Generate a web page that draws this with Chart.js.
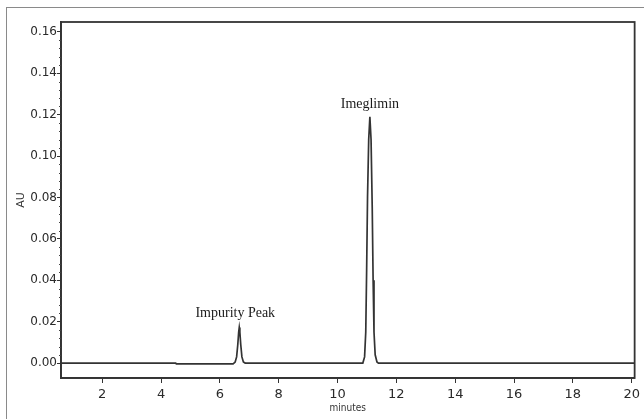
<!DOCTYPE html>
<html>
<head>
<meta charset="utf-8">
<script src="https://cdn.jsdelivr.net/npm/chart.js@4"></script>
<style>
  html, body { margin: 0; padding: 0; background: #fff; }
  #wrap { position: relative; width: 644px; height: 419px; }
  #frame { position: absolute; left: 6px; top: 7px; width: 638px; height: 412px;
           border-left: 1px solid #8a8a8a; border-top: 1px solid #8a8a8a; box-sizing: border-box; }
  canvas { position: absolute; left: 0; top: 0; }
</style>
</head>
<body>
<div id="wrap">
  <div id="frame"></div>
  <canvas id="c" width="644" height="419"></canvas>
</div>
<script>
// ---- data ----
const timesMin = [0.6, 4.5, 4.52, 6.45, 6.52, 6.57, 6.61, 6.64, 6.66, 6.68, 6.71, 6.75, 6.80, 6.86,
                  10.86, 10.92, 10.96, 10.99, 11.02, 11.06, 11.10, 11.14, 11.18, 11.21, 11.24, 11.28, 11.34, 11.39, 20.1];
const absorbanceAU = [0, 0, -0.0004, -0.0004, 0.0005, 0.003, 0.009, 0.015, 0.0172, 0.015, 0.009, 0.003, 0.0005, 0,
                  0, 0.003, 0.015, 0.045, 0.08, 0.108, 0.119, 0.108, 0.075, 0.04, 0.015, 0.004, 0.0005, 0, 0];
const xTickValues = [2, 4, 6, 8, 10, 12, 14, 16, 18, 20];
const yTickValues = [0.00, 0.02, 0.04, 0.06, 0.08, 0.10, 0.12, 0.14, 0.16];
const peakNames = ["Impurity Peak", "Imeglimin"];
const peakTimes = [6.66, 11.10];
const peakHeights = [0.0172, 0.119];
const xTitle = "minutes";
const yTitle = "AU";

const points = timesMin.map((t, i) => ({ x: t, y: absorbanceAU[i] }));

const frameAndLabels = {
  id: 'frameAndLabels',
  afterDraw(chart) {
    const ctx = chart.ctx;
    const a = chart.chartArea;
    const xs = chart.scales.x, ys = chart.scales.y;
    ctx.save();
    // frame
    ctx.strokeStyle = '#333';
    ctx.lineWidth = 1.8;
    ctx.strokeRect(a.left, a.top, a.right - a.left, a.bottom - a.top);
    // minor ticks on y axis
    ctx.lineWidth = 1;
    ctx.strokeStyle = '#444';
    for (let i = 0; i < yTickValues.length - 1; i++) {
      const step = (yTickValues[i + 1] - yTickValues[i]) / 5;
      for (let k = 1; k < 5; k++) {
        const py = Math.round(ys.getPixelForValue(yTickValues[i] + k * step)) + 0.5;
        ctx.beginPath();
        ctx.moveTo(a.left - 2, py);
        ctx.lineTo(a.left, py);
        ctx.stroke();
      }
    }
    // peak labels
    ctx.fillStyle = '#1a1a1a';
    ctx.font = '14px "Liberation Serif", "Times New Roman", serif';
    ctx.textAlign = 'center';
    ctx.textBaseline = 'middle';
    peakNames.forEach((name, i) => {
      const px = xs.getPixelForValue(peakTimes[i]);
      const py = ys.getPixelForValue(peakHeights[i]);
      ctx.fillText(name, px - (i === 0 ? 4 : 0), py - (i === 0 ? 14 : 12));
    });
    ctx.restore();
  }
};

new Chart(document.getElementById('c'), {
  type: 'line',
  data: {
    datasets: [{
      data: points,
      borderColor: '#333',
      borderWidth: 1.7,
      pointRadius: 0,
      tension: 0,
      fill: false
    }]
  },
  options: {
    responsive: false,
    animation: false,
    events: [],
    layout: { padding: { left: 0, top: 22, right: 7, bottom: 0 } },
    plugins: { legend: { display: false }, tooltip: { enabled: false } },
    scales: {
      x: {
        type: 'linear',
        min: 0.6,
        max: 20.1,
        afterBuildTicks(s) { s.ticks = xTickValues.map(v => ({ value: v })); },
        afterFit(s) { s.height = 41; },
        grid: { drawOnChartArea: false, tickLength: 5, color: '#333', tickWidth: 1 },
        border: { display: true, color: '#333', width: 1.8 },
        ticks: {
          autoSkip: false, maxRotation: 0, padding: 4,
          color: '#2a2a2a',
          font: { family: '"DejaVu Sans", sans-serif', size: 13 },
          callback: v => String(v)
        },
        title: {
          display: true, text: xTitle, color: '#333',
          font: { family: '"DejaVu Sans Condensed", "DejaVu Sans", sans-serif', size: 10 },
          padding: { top: 0, bottom: 5 }
        }
      },
      y: {
        type: 'linear',
        min: -0.0072,
        max: 0.1648,
        afterBuildTicks(s) { s.ticks = yTickValues.map(v => ({ value: v })); },
        afterFit(s) { s.width = 61; },
        grid: { drawOnChartArea: false, tickLength: 4, color: '#333', tickWidth: 1 },
        border: { display: true, color: '#333', width: 1.8 },
        ticks: {
          padding: 0,
          color: '#2a2a2a',
          font: { family: '"DejaVu Sans", sans-serif', size: 12 },
          callback: v => v.toFixed(2)
        },
        title: {
          display: true, text: yTitle, color: '#333',
          font: { family: '"DejaVu Sans", sans-serif', size: 11 },
          padding: { top: 15, bottom: 0 }
        }
      }
    }
  },
  plugins: [frameAndLabels]
});
</script>
</body>
</html>
